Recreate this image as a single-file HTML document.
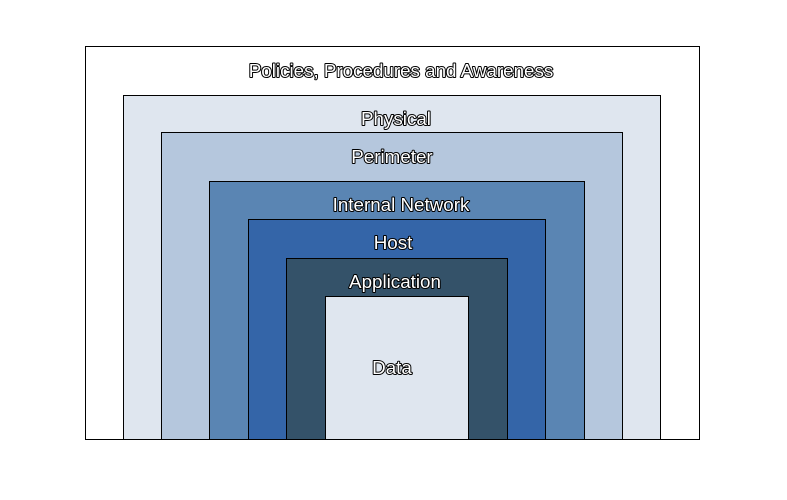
<!DOCTYPE html>
<html><head><meta charset="utf-8"><style>
html,body{margin:0;padding:0;background:#fff;}
svg text{font-family:"Liberation Sans",sans-serif;font-size:18.8px;fill:#fff;stroke:#000;stroke-width:2px;paint-order:stroke;stroke-linejoin:round;text-anchor:middle;}
</style></head><body>
<svg id="chart" width="787" height="495"></svg>
<script>
const layerNames=["Policies, Procedures and Awareness","Physical","Perimeter","Internal Network","Host","Application","Data"];
const layerColors=["#ffffff","#dfe6ef","#b5c7dd","#5a85b3","#3465a8","#345269","#dfe6ef"];
const layerLeft=[85,123,161,209,248,286,325];
const layerRight=[699,660,622,584,545,507,468];
const layerTop=[46,95,132,181,219,258,296];
const labelX=[401,396,392,401,393,395,392];
const labelY=[77,125,163,211,249,288,374];
const bottom=439;
const ns="http://www.w3.org/2000/svg";
const svg=document.getElementById("chart");
for(let i=0;i<layerNames.length;i++){
  const r=document.createElementNS(ns,"rect");
  
  
  r.setAttribute("x",layerLeft[i]+0.5);r.setAttribute("y",layerTop[i]+0.5);
  r.setAttribute("width",layerRight[i]-layerLeft[i]);r.setAttribute("height",bottom-layerTop[i]);
  r.setAttribute("fill",layerColors[i]);r.setAttribute("stroke","#000");r.setAttribute("stroke-width","1");
  svg.appendChild(r);
}
for(let i=0;i<layerNames.length;i++){
  const t=document.createElementNS(ns,"text");
  
  
  t.setAttribute("x",labelX[i]);
  t.setAttribute("y",labelY[i]);
  t.textContent=layerNames[i];
  svg.appendChild(t);
}
</script>
</body></html>
